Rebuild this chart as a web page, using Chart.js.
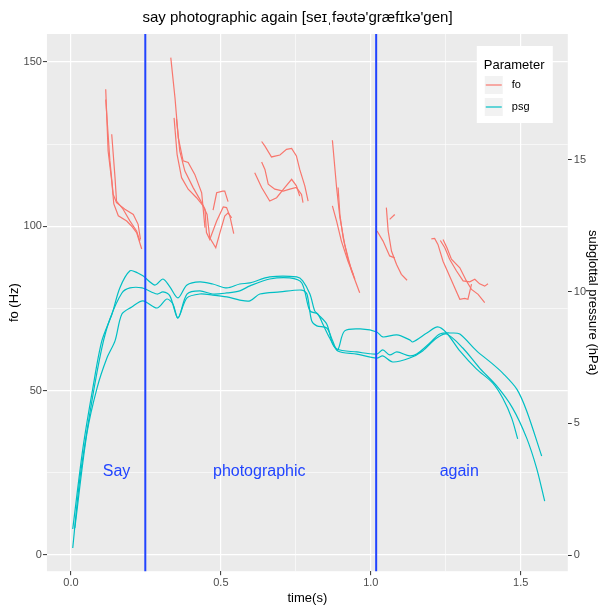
<!DOCTYPE html>
<html>
<head>
<meta charset="utf-8">
<script src="https://cdn.jsdelivr.net/npm/chart.js@4.4.1/dist/chart.umd.min.js"></script>
<style>
  html, body { margin: 0; padding: 0; background: #fff; }
</style>
</head>
<body>
<canvas id="chart" width="600" height="606"></canvas>
<script>
// --- data ---
const seriesNames = ['fo', 'psg'];
const seriesColors = ['#F8766D', '#00BFC4'];

// fo contours (Hz), one entry per voiced stretch
const foTimes = [
  [0.116, 0.124, 0.136, 0.143, 0.158, 0.186, 0.202, 0.219, 0.236],
  [0.116, 0.13, 0.141, 0.152, 0.18, 0.208, 0.224, 0.232],
  [0.136, 0.147, 0.152, 0.174, 0.197, 0.219, 0.23],
  [0.333, 0.347, 0.358, 0.374, 0.391, 0.413, 0.436, 0.447],
  [0.352, 0.363, 0.38, 0.408, 0.43, 0.447, 0.452, 0.463, 0.486, 0.508, 0.519, 0.53, 0.543],
  [0.344, 0.354, 0.369, 0.391, 0.419, 0.441, 0.454, 0.463, 0.483, 0.497, 0.513, 0.524, 0.536],
  [0.474, 0.486, 0.506, 0.513, 0.524],
  [0.636, 0.647, 0.669, 0.697, 0.719, 0.736, 0.752, 0.763, 0.78, 0.791],
  [0.636, 0.647, 0.658, 0.68, 0.708, 0.73, 0.752, 0.769, 0.774],
  [0.613, 0.636, 0.663, 0.686, 0.713, 0.736, 0.752, 0.763],
  [0.872, 0.886, 0.897, 0.913, 0.936, 0.963],
  [0.891, 0.897, 0.908, 0.924, 0.947],
  [0.872, 0.886, 0.902, 0.924, 0.941],
  [1.021, 1.041, 1.063, 1.08],
  [1.052, 1.058, 1.069, 1.086, 1.102, 1.121],
  [1.063, 1.08],
  [1.202, 1.213, 1.224, 1.241, 1.258, 1.28, 1.297, 1.313, 1.324, 1.336],
  [1.232, 1.247, 1.263, 1.286, 1.308, 1.33, 1.347, 1.363, 1.38, 1.391],
  [1.241, 1.254, 1.269, 1.297, 1.319, 1.336, 1.358, 1.38]
];
const foHz = [
  [141.7, 122.9, 113.8, 106.8, 103.2, 101.6, 100.1, 98.1, 93.1],
  [138.6, 119.9, 109.7, 107.2, 105.2, 103.6, 100.6, 96.0],
  [128.0, 114.8, 107.7, 105.2, 101.6, 98.6, 95.5],
  [151.3, 139.1, 127.0, 119.9, 119.4, 115.8, 110.2, 99.6],
  [132.6, 122.9, 116.8, 111.7, 108.2, 105.2, 98.1, 96.0, 101.6, 105.9, 105.7, 103.1, 97.8],
  [133.0, 121.9, 114.8, 111.3, 108.7, 106.2, 103.6, 96.5, 93.5, 98.1, 103.1, 104.1, 102.6],
  [104.9, 110.2, 110.7, 110.7, 107.5],
  [125.8, 124.4, 121.1, 121.7, 123.4, 123.7, 121.4, 117.3, 112.3, 107.7],
  [119.6, 117.3, 112.8, 111.3, 110.7, 111.3, 111.8, 109.7, 107.2],
  [116.3, 111.8, 107.7, 108.7, 111.8, 114.3, 112.3, 109.2],
  [126.2, 111.8, 102.6, 94.5, 86.4, 79.8],
  [111.8, 103.6, 96.5, 90.0, 83.9],
  [106.2, 101.6, 95.5, 89.4, 85.4],
  [98.6, 95.5, 91.0, 90.4],
  [105.7, 98.6, 92.5, 88.4, 85.4, 83.6],
  [102.1, 103.6],
  [96.2, 96.3, 94.5, 89.4, 85.9, 81.3, 77.8, 78.1, 77.8, 82.4],
  [95.7, 93.5, 90.0, 86.4, 83.4, 83.1, 83.9, 82.5, 81.8, 82.5],
  [96.0, 93.5, 90.0, 87.4, 83.4, 80.8, 79.3, 76.8]
];

// subglottal pressure (hPa), one entry per repetition
const psgTimes = [
  [0.006, 0.04, 0.073, 0.103, 0.137, 0.163, 0.197, 0.223, 0.24, 0.28, 0.307, 0.33, 0.357, 0.387, 0.43, 0.473, 0.52, 0.563, 0.597, 0.663, 0.753, 0.773, 0.797, 0.813, 0.823, 0.853, 0.873, 0.89, 0.913, 0.973, 1.02, 1.04, 1.087, 1.13, 1.14, 1.187, 1.223, 1.253, 1.297, 1.353, 1.407, 1.44, 1.47, 1.49],
  [0.006, 0.03, 0.07, 0.103, 0.13, 0.17, 0.197, 0.237, 0.287, 0.307, 0.33, 0.357, 0.387, 0.43, 0.473, 0.52, 0.563, 0.597, 0.663, 0.73, 0.77, 0.797, 0.823, 0.84, 0.863, 0.887, 0.953, 1.02, 1.04, 1.063, 1.087, 1.13, 1.153, 1.197, 1.23, 1.27, 1.297, 1.353, 1.407, 1.44, 1.487, 1.52, 1.57],
  [0.013, 0.053, 0.087, 0.12, 0.147, 0.17, 0.203, 0.24, 0.287, 0.32, 0.34, 0.357, 0.387, 0.43, 0.473, 0.52, 0.563, 0.597, 0.63, 0.697, 0.77, 0.787, 0.803, 0.82, 0.853, 0.873, 0.89, 0.953, 1.02, 1.04, 1.073, 1.13, 1.173, 1.22, 1.253, 1.307, 1.363, 1.42, 1.473, 1.52, 1.553, 1.58]
];
const psgHpa = [
  [0.99, 4.06, 6.34, 8.13, 9.15, 10.14, 10.79, 10.71, 10.60, 10.25, 10.48, 10.18, 9.76, 10.25, 10.37, 10.29, 10.14, 10.29, 10.33, 10.56, 10.56, 10.41, 9.91, 9.27, 9.15, 8.77, 8.01, 7.79, 8.51, 8.58, 8.47, 8.28, 8.36, 8.17, 8.09, 8.43, 8.66, 8.43, 7.75, 7.06, 6.53, 5.96, 5.20, 4.41],
  [0.27, 2.92, 5.85, 7.86, 8.96, 9.95, 10.14, 10.14, 9.91, 9.99, 9.84, 9.00, 9.91, 10.03, 9.91, 9.95, 10.03, 10.22, 10.48, 10.52, 10.33, 9.27, 9.15, 8.77, 8.24, 7.82, 7.71, 7.63, 7.79, 7.60, 7.71, 7.56, 7.63, 8.05, 8.39, 8.43, 8.39, 7.75, 7.25, 6.91, 6.30, 5.47, 3.76],
  [1.03, 4.60, 6.34, 7.48, 8.13, 9.15, 9.42, 9.65, 9.38, 9.72, 9.53, 9.00, 9.76, 9.91, 9.87, 9.80, 9.68, 9.65, 9.91, 9.99, 10.06, 9.91, 8.89, 8.70, 8.62, 8.13, 7.75, 7.63, 7.48, 7.56, 7.33, 7.48, 7.75, 8.24, 8.39, 7.86, 7.10, 6.42, 5.58, 4.44, 3.30, 2.05]
];

// word annotations and boundaries
const wordLabels = ['Say', 'photographic', 'again'];
const wordTimes = [0.152, 0.628, 1.295];
const wordHz = 25.5;
const boundaryTimes = [0.248, 1.018];

// axis ticks
const xMajor = [0, 0.5, 1.0, 1.5];
const xMinor = [0.25, 0.75, 1.25];
const xTickLabels = ['0.0', '0.5', '1.0', '1.5'];
const foMajor = [0, 50, 100, 150];
const foMinor = [25, 75, 125];
const psgTicks = [0, 5, 10, 15];
const psgTitle = 'subglottal pressure (hPa)';

const FONT = "'Liberation Sans', Arial, sans-serif";
const TICK_COL = '#4D4D4D';

const toPoints = (ts, vs) => ts.map((t, i) => ({ x: t, y: vs[i] }));
const isMajor = (list, v) => list.some(m => Math.abs(m - v) < 1e-6);

const datasets = [];
foTimes.forEach((ts, i) => {
  datasets.push({
    label: seriesNames[0], data: toPoints(ts, foHz[i]), yAxisID: 'y',
    borderColor: seriesColors[0], borderWidth: 1.2, pointRadius: 0, showLine: true, tension: 0, fill: false
  });
});
psgTimes.forEach((ts, i) => {
  datasets.push({
    label: seriesNames[1], data: toPoints(ts, psgHpa[i]), yAxisID: 'y1',
    borderColor: seriesColors[1], borderWidth: 1.2, pointRadius: 0, showLine: true, tension: 0.3, fill: false
  });
});

const panelBg = {
  id: 'panelBg',
  beforeDraw(chart) {
    const { ctx, chartArea: a } = chart;
    ctx.save();
    ctx.fillStyle = '#EBEBEB';
    ctx.fillRect(a.left, a.top, a.width, a.height);
    ctx.restore();
  }
};

const annotations = {
  id: 'annotations',
  afterDatasetsDraw(chart) {
    const { ctx, chartArea: a, scales } = chart;
    ctx.save();
    ctx.strokeStyle = '#2144FF';
    ctx.lineWidth = 2;
    boundaryTimes.forEach(t => {
      const px = scales.x.getPixelForValue(t);
      ctx.beginPath();
      ctx.moveTo(px, a.top);
      ctx.lineTo(px, a.bottom);
      ctx.stroke();
    });
    ctx.fillStyle = '#2144FF';
    ctx.font = '16px ' + FONT;
    ctx.textAlign = 'center';
    ctx.textBaseline = 'middle';
    wordLabels.forEach((w, i) => {
      ctx.fillText(w, scales.x.getPixelForValue(wordTimes[i]), scales.y.getPixelForValue(wordHz));
    });
    ctx.restore();
  }
};

// secondary axis title, drawn by hand so the panel can reach further right
const rightTitle = {
  id: 'rightTitle',
  afterDraw(chart) {
    const { ctx, chartArea: a } = chart;
    ctx.save();
    ctx.translate(a.right + 25, (a.top + a.bottom) / 2);
    ctx.rotate(Math.PI / 2);
    ctx.fillStyle = '#000';
    ctx.font = '13px ' + FONT;
    ctx.textAlign = 'center';
    ctx.textBaseline = 'middle';
    ctx.fillText(psgTitle, 0, 0);
    ctx.restore();
  }
};

const legendBox = {
  id: 'legendBox',
  afterDraw(chart) {
    const { ctx, chartArea: a } = chart;
    const bx = a.right - 91, by = a.top + 12;
    ctx.save();
    ctx.fillStyle = '#fff';
    ctx.fillRect(bx, by, 76, 77);
    ctx.fillStyle = '#000';
    ctx.font = '13px ' + FONT;
    ctx.textAlign = 'left';
    ctx.textBaseline = 'alphabetic';
    ctx.fillText('Parameter', bx + 7, by + 23);
    seriesNames.forEach((name, i) => {
      const cy = by + 39 + i * 22;
      ctx.fillStyle = '#F2F2F2';
      ctx.fillRect(bx + 8, cy - 9, 18, 18);
      ctx.strokeStyle = seriesColors[i];
      ctx.lineWidth = 1.2;
      ctx.beginPath();
      ctx.moveTo(bx + 9, cy);
      ctx.lineTo(bx + 25, cy);
      ctx.stroke();
      ctx.fillStyle = '#000';
      ctx.font = '11px ' + FONT;
      ctx.textBaseline = 'middle';
      ctx.fillText(name, bx + 35, cy);
      ctx.textBaseline = 'alphabetic';
    });
    ctx.restore();
  }
};

new Chart(document.getElementById('chart'), {
  type: 'scatter',
  data: { datasets: datasets },
  options: {
    responsive: false,
    animation: false,
    layout: { padding: { left: 7, right: 12, top: 0, bottom: 0 } },
    plugins: {
      legend: { display: false },
      tooltip: { enabled: false },
      title: {
        display: true,
        text: "say photographic again [seɪˌfəʊtə'græfɪkə'gen]",
        color: '#000',
        font: { family: FONT, size: 15, weight: 'normal' },
        padding: { top: 9, bottom: 7 }
      }
    },
    scales: {
      x: {
        type: 'linear', min: -0.08, max: 1.657,
        afterBuildTicks: s => { s.ticks = xMajor.concat(xMinor).sort((p, q) => p - q).map(v => ({ value: v })); },
        ticks: {
          autoSkip: false, maxRotation: 0, padding: 1, color: TICK_COL,
          font: { family: FONT, size: 11 },
          callback: v => { const k = xMajor.findIndex(m => Math.abs(m - v) < 1e-6); return k >= 0 ? xTickLabels[k] : ''; }
        },
        grid: {
          color: '#fff',
          lineWidth: c => (c.tick && isMajor(xMajor, c.tick.value)) ? 1.2 : 0.6,
          tickColor: c => (c.tick && isMajor(xMajor, c.tick.value)) ? '#333' : 'rgba(0,0,0,0)',
          tickLength: 4, tickWidth: 1
        },
        border: { display: false },
        title: { display: true, text: 'time(s)', color: '#000', font: { family: FONT, size: 13 }, padding: { top: 0, bottom: 0 } }
      },
      y: {
        type: 'linear', position: 'left', min: -4.9, max: 158.5,
        afterBuildTicks: s => { s.ticks = foMajor.concat(foMinor).sort((p, q) => p - q).map(v => ({ value: v })); },
        ticks: {
          autoSkip: false, padding: 1, color: TICK_COL,
          font: { family: FONT, size: 11 },
          callback: v => isMajor(foMajor, v) ? String(v) : ''
        },
        grid: {
          color: '#fff',
          lineWidth: c => (c.tick && isMajor(foMajor, c.tick.value)) ? 1.2 : 0.6,
          tickColor: c => (c.tick && isMajor(foMajor, c.tick.value)) ? '#333' : 'rgba(0,0,0,0)',
          tickLength: 4, tickWidth: 1
        },
        border: { display: false },
        title: { display: true, text: 'fo (Hz)', color: '#000', font: { family: FONT, size: 13 }, padding: { top: 0, bottom: 0 } }
      },
      y1: {
        type: 'linear', position: 'right', min: -0.612, max: 19.78,
        afterBuildTicks: s => { s.ticks = psgTicks.map(v => ({ value: v })); },
        ticks: {
          autoSkip: false, padding: 2, color: TICK_COL,
          font: { family: FONT, size: 11 },
          callback: v => String(v)
        },
        grid: { drawOnChartArea: false, tickColor: '#333', tickLength: 4, tickWidth: 1 },
        border: { display: false },
        title: { display: false }
      }
    }
  },
  plugins: [panelBg, annotations, rightTitle, legendBox]
});
</script>
</body>
</html>
